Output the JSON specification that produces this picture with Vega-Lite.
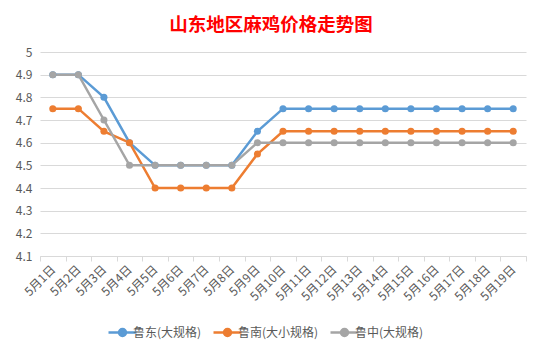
{
  "$schema": "https://vega.github.io/schema/vega-lite/v6.json",
  "autosize": "none",
  "width": 486,
  "height": 204,
  "padding": {"left": 40, "top": 52, "right": 16, "bottom": 102},
  "background": "#ffffff",
  "title": {"text": "山东地区麻鸡价格走势图", "color": "#ff0000", "font": "Noto Sans CJK SC", "fontSize": 18.5, "fontWeight": "bold", "anchor": "middle", "dx": -12, "offset": 12},
  "data": {"values": [
    {"d": "5月1日", "s": "鲁东(大规格)", "v": 4.9},
    {"d": "5月2日", "s": "鲁东(大规格)", "v": 4.9},
    {"d": "5月3日", "s": "鲁东(大规格)", "v": 4.8},
    {"d": "5月4日", "s": "鲁东(大规格)", "v": 4.6},
    {"d": "5月5日", "s": "鲁东(大规格)", "v": 4.5},
    {"d": "5月6日", "s": "鲁东(大规格)", "v": 4.5},
    {"d": "5月7日", "s": "鲁东(大规格)", "v": 4.5},
    {"d": "5月8日", "s": "鲁东(大规格)", "v": 4.5},
    {"d": "5月9日", "s": "鲁东(大规格)", "v": 4.65},
    {"d": "5月10日", "s": "鲁东(大规格)", "v": 4.75},
    {"d": "5月11日", "s": "鲁东(大规格)", "v": 4.75},
    {"d": "5月12日", "s": "鲁东(大规格)", "v": 4.75},
    {"d": "5月13日", "s": "鲁东(大规格)", "v": 4.75},
    {"d": "5月14日", "s": "鲁东(大规格)", "v": 4.75},
    {"d": "5月15日", "s": "鲁东(大规格)", "v": 4.75},
    {"d": "5月16日", "s": "鲁东(大规格)", "v": 4.75},
    {"d": "5月17日", "s": "鲁东(大规格)", "v": 4.75},
    {"d": "5月18日", "s": "鲁东(大规格)", "v": 4.75},
    {"d": "5月19日", "s": "鲁东(大规格)", "v": 4.75},
    {"d": "5月1日", "s": "鲁南(大小规格)", "v": 4.75},
    {"d": "5月2日", "s": "鲁南(大小规格)", "v": 4.75},
    {"d": "5月3日", "s": "鲁南(大小规格)", "v": 4.65},
    {"d": "5月4日", "s": "鲁南(大小规格)", "v": 4.6},
    {"d": "5月5日", "s": "鲁南(大小规格)", "v": 4.4},
    {"d": "5月6日", "s": "鲁南(大小规格)", "v": 4.4},
    {"d": "5月7日", "s": "鲁南(大小规格)", "v": 4.4},
    {"d": "5月8日", "s": "鲁南(大小规格)", "v": 4.4},
    {"d": "5月9日", "s": "鲁南(大小规格)", "v": 4.55},
    {"d": "5月10日", "s": "鲁南(大小规格)", "v": 4.65},
    {"d": "5月11日", "s": "鲁南(大小规格)", "v": 4.65},
    {"d": "5月12日", "s": "鲁南(大小规格)", "v": 4.65},
    {"d": "5月13日", "s": "鲁南(大小规格)", "v": 4.65},
    {"d": "5月14日", "s": "鲁南(大小规格)", "v": 4.65},
    {"d": "5月15日", "s": "鲁南(大小规格)", "v": 4.65},
    {"d": "5月16日", "s": "鲁南(大小规格)", "v": 4.65},
    {"d": "5月17日", "s": "鲁南(大小规格)", "v": 4.65},
    {"d": "5月18日", "s": "鲁南(大小规格)", "v": 4.65},
    {"d": "5月19日", "s": "鲁南(大小规格)", "v": 4.65},
    {"d": "5月1日", "s": "鲁中(大规格)", "v": 4.9},
    {"d": "5月2日", "s": "鲁中(大规格)", "v": 4.9},
    {"d": "5月3日", "s": "鲁中(大规格)", "v": 4.7},
    {"d": "5月4日", "s": "鲁中(大规格)", "v": 4.5},
    {"d": "5月5日", "s": "鲁中(大规格)", "v": 4.5},
    {"d": "5月6日", "s": "鲁中(大规格)", "v": 4.5},
    {"d": "5月7日", "s": "鲁中(大规格)", "v": 4.5},
    {"d": "5月8日", "s": "鲁中(大规格)", "v": 4.5},
    {"d": "5月9日", "s": "鲁中(大规格)", "v": 4.6},
    {"d": "5月10日", "s": "鲁中(大规格)", "v": 4.6},
    {"d": "5月11日", "s": "鲁中(大规格)", "v": 4.6},
    {"d": "5月12日", "s": "鲁中(大规格)", "v": 4.6},
    {"d": "5月13日", "s": "鲁中(大规格)", "v": 4.6},
    {"d": "5月14日", "s": "鲁中(大规格)", "v": 4.6},
    {"d": "5月15日", "s": "鲁中(大规格)", "v": 4.6},
    {"d": "5月16日", "s": "鲁中(大规格)", "v": 4.6},
    {"d": "5月17日", "s": "鲁中(大规格)", "v": 4.6},
    {"d": "5月18日", "s": "鲁中(大规格)", "v": 4.6},
    {"d": "5月19日", "s": "鲁中(大规格)", "v": 4.6}
  ]},
  "encoding": {
    "x": {"field": "d", "type": "nominal", "sort": null,
      "scale": {"type": "band", "paddingInner": 0, "paddingOuter": 0},
      "axis": {"title": null, "labelAngle": -45, "labelAlign": "right", "labelBaseline": "middle", "labelFontSize": 12, "labelColor": "#595959", "labelFont": "Noto Sans CJK SC", "tickBand": "extent", "domainColor": "#d9d9d9", "tickColor": "#d9d9d9", "tickSize": 5, "labelPadding": 6, "grid": false}},
    "y": {"field": "v", "type": "quantitative",
      "scale": {"domain": [4.1, 5], "zero": false, "nice": false},
      "axis": {"title": null, "values": [4.1, 4.2, 4.3, 4.4, 4.5, 4.6, 4.7, 4.8, 4.9, 5], "format": ".1~f", "domain": false, "ticks": false, "labelFontSize": 12, "labelColor": "#595959", "labelFont": "Noto Sans CJK SC", "gridColor": "#d9d9d9", "labelPadding": 8}},
    "color": {"field": "s", "type": "nominal", "sort": null,
      "scale": {"domain": ["鲁东(大规格)", "鲁南(大小规格)", "鲁中(大规格)"], "range": ["#5b9bd5", "#ed7d31", "#a5a5a5"]},
      "legend": {"title": null, "orient": "none", "direction": "horizontal", "legendX": 76, "legendY": 274, "labelFontSize": 12, "labelColor": "#595959", "labelFont": "Noto Sans CJK SC", "symbolType": "M-2.8,0L2.8,0M-0.7,0A0.7,0.7,0,1,0,0.7,0A0.7,0.7,0,1,0,-0.7,0", "symbolSize": 100, "symbolStrokeWidth": 2.5, "columnPadding": 6, "labelOffset": 4}}
  },
  "layer": [
    {"mark": {"type": "line", "strokeWidth": 2.5}},
    {"mark": {"type": "point", "filled": true, "size": 50, "opacity": 1}}
  ],
  "config": {"view": {"stroke": null}}
}
